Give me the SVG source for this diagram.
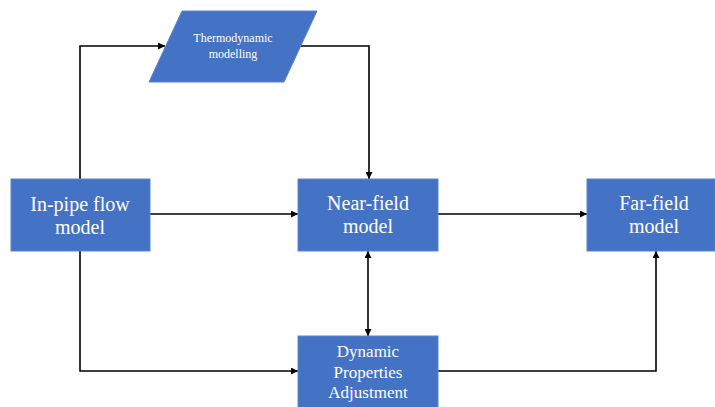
<svg xmlns="http://www.w3.org/2000/svg" width="715" height="407" viewBox="0 0 715 407">
  <style>
    .box { fill: #4472C4; stroke: #5A84CE; stroke-width: 1; }
    .lbl { fill: #FFFFFF; font-family: "Liberation Serif", "Times New Roman", serif; text-anchor: middle; }
    .big { font-size: 20px; }
    .mid { font-size: 17px; }
    .small { font-size: 12px; }
    .wire { fill: none; stroke: #000000; stroke-width: 1.6; }
  </style>
  <defs>
    <marker id="head" viewBox="0 0 10 10" refX="10" refY="5" markerWidth="7" markerHeight="7" markerUnits="userSpaceOnUse" orient="auto-start-reverse">
      <path d="M0,0 L10,5 L0,10 z" fill="#000000"/>
    </marker>
  </defs>
  <rect width="715" height="407" fill="#FFFFFF"/>

  <!-- connectors -->
  <g id="connectors">
    <polyline class="wire" points="80,179 80,46 165,46" marker-end="url(#head)"/>
    <polyline class="wire" points="300,46 369,46 369,179" marker-end="url(#head)"/>
    <line class="wire" x1="150" y1="214" x2="298" y2="214" marker-end="url(#head)"/>
    <line class="wire" x1="438" y1="214" x2="587" y2="214" marker-end="url(#head)"/>
    <line class="wire" x1="368" y1="251" x2="368" y2="336" marker-start="url(#head)" marker-end="url(#head)"/>
    <polyline class="wire" points="80,251 80,371 298,371" marker-end="url(#head)"/>
    <polyline class="wire" points="438,371 656,371 656,251" marker-end="url(#head)"/>
  </g>

  <g id="thermo">
    <polygon class="box" points="182,11 317,11 284,82 149,82"/>
    <text class="lbl small" x="233" y="42">Thermodynamic</text>
    <text class="lbl small" x="233" y="58">modelling</text>
  </g>

  <g id="inpipe">
    <rect class="box" x="11" y="179" width="139" height="72"/>
    <text class="lbl big" x="80" y="211">In-pipe flow</text>
    <text class="lbl big" x="80" y="234">model</text>
  </g>

  <g id="nearfield">
    <rect class="box" x="298" y="179" width="140" height="72"/>
    <text class="lbl big" x="368" y="210">Near-field</text>
    <text class="lbl big" x="368" y="233">model</text>
  </g>

  <g id="farfield">
    <rect class="box" x="587" y="179" width="128" height="72"/>
    <text class="lbl big" x="654" y="210">Far-field</text>
    <text class="lbl big" x="654" y="233">model</text>
  </g>

  <g id="dynamic">
    <rect class="box" x="298" y="336" width="140" height="75"/>
    <text class="lbl mid" x="368" y="357">Dynamic</text>
    <text class="lbl mid" x="368" y="378">Properties</text>
    <text class="lbl mid" x="368" y="398">Adjustment</text>
  </g>
</svg>
